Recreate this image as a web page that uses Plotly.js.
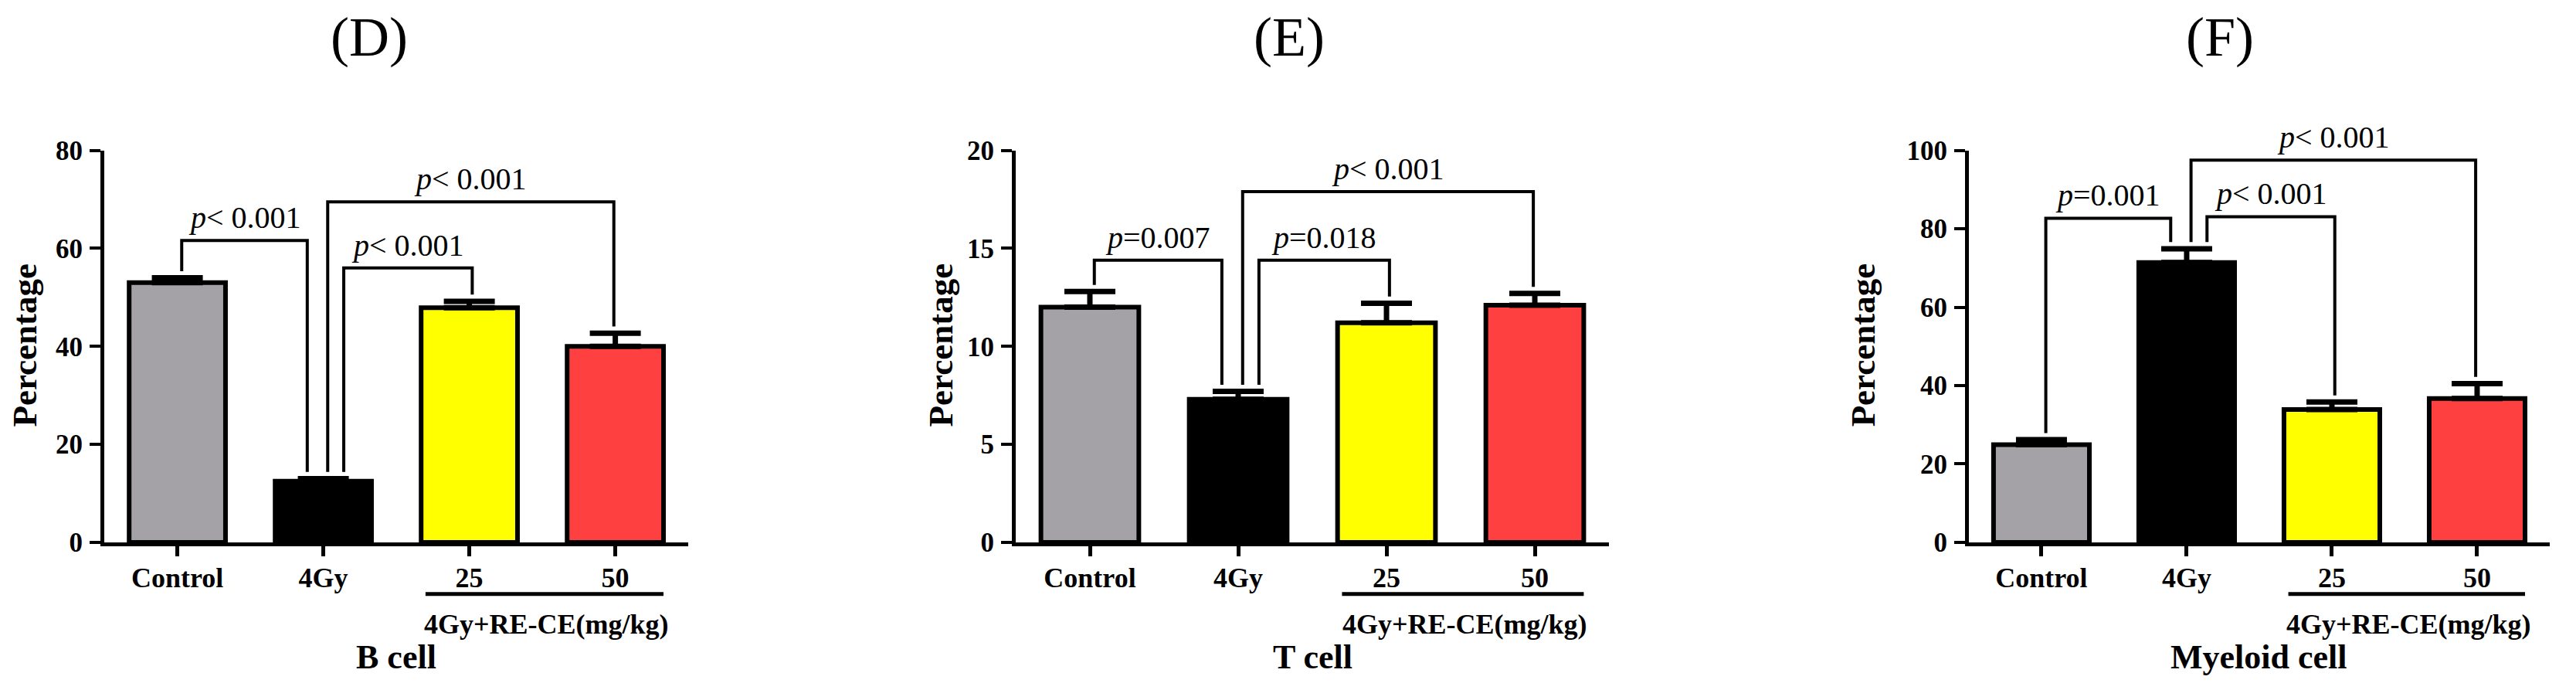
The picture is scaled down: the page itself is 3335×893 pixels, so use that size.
<!DOCTYPE html>
<html>
<head>
<meta charset="utf-8">
<script src="https://cdn.plot.ly/plotly-3.0.1.min.js"></script>
<style>
  body { margin: 0; background: #fff; }
  #chart { width: 3335px; height: 893px; }
</style>
</head>
<body>
<div id="chart"></div>
<script>
// data
var categories = ['Control', '4Gy', '25', '50'];
var barColors = ['#a4a2a7', '#000000', '#ffff00', '#ff4040'];

var bCellMean = [53.0, 12.5, 47.9, 40.0];
var bCellErr = [1.0, 0.5, 1.3, 2.7];
var tCellMean = [12.0, 7.3, 11.2, 12.1];
var tCellErr = [0.8, 0.4, 1.0, 0.6];
var myeloidMean = [24.9, 71.4, 33.9, 36.7];
var myeloidErr = [1.3, 3.5, 1.9, 3.8];

// [from, to, height, label]
var bCellBrackets = [[0, 1, 61.6, '<i>p</i>&lt; 0.001'], [1, 3, 69.5, '<i>p</i>&lt; 0.001'], [1, 2, 56, '<i>p</i>&lt; 0.001']];
var tCellBrackets = [[0, 1, 14.4, '<i>p</i>=0.007'], [1, 3, 17.9, '<i>p</i>&lt; 0.001'], [1, 2, 14.4, '<i>p</i>=0.018']];
var myeloidBrackets = [[0, 1, 82.7, '<i>p</i>=0.001'], [1, 3, 97.5, '<i>p</i>&lt; 0.001'], [1, 2, 83.1, '<i>p</i>&lt; 0.001']];

var panelTitles = ['(D)', '(E)', '(F)'];
var cellLabels = ['B cell', 'T cell', 'Myeloid cell'];
var groupLabel = '4Gy+RE-CE(mg/kg)';
var yMax = [80, 20, 100];
var yStep = [20, 5, 20];

// layout bits
var serif = 'Liberation Serif, Times New Roman, serif';
var xDomains = [[0.0405, 0.2672], [0.3943, 0.6246], [0.7643, 0.9898]];
var yDomain = [0.214, 0.782];
var titleX = [0.1433, 0.5004, 0.8618];
var ylabX = [0.0093, 0.3652, 0.7232];
var legShift = [[0.03, -0.11], [0.03, -0.01], [0.14, 0.02]];

var panels = [
  {mean: bCellMean, err: bCellErr, br: bCellBrackets},
  {mean: tCellMean, err: tCellErr, br: tCellBrackets},
  {mean: myeloidMean, err: myeloidErr, br: myeloidBrackets}
];

var xs = categories.map(function (c, i) { return i; });
var data = [];
var layout = {
  width: 3335, height: 893,
  margin: {l: 0, r: 0, t: 0, b: 0},
  paper_bgcolor: '#fff', plot_bgcolor: '#fff',
  showlegend: false,
  shapes: [], annotations: []
};

panels.forEach(function (p, k) {
  var sfx = k === 0 ? '' : String(k + 1);
  var xa = 'x' + sfx, ya = 'y' + sfx;

  data.push({
    type: 'bar', x: xs, y: p.mean, xaxis: xa, yaxis: ya, width: 0.66,
    marker: {color: barColors, line: {color: '#000', width: 6}},
    error_y: {type: 'data', symmetric: false, array: p.err, arrayminus: [0, 0, 0, 0],
      color: '#000', thickness: 7, width: 33},
    hoverinfo: 'skip'
  });

  var gap = yMax[k] * 0.017;
  p.br.forEach(function (b, j) {
    var l = b[0] + legShift[j][0], r = b[1] + legShift[j][1];
    var lb = p.mean[b[0]] + p.err[b[0]] + gap;
    var rb = p.mean[b[1]] + p.err[b[1]] + gap;
    data.push({
      type: 'scatter', mode: 'lines', xaxis: xa, yaxis: ya,
      x: [l, l, r, r], y: [lb, b[2], b[2], rb],
      line: {color: '#000', width: 4}, hoverinfo: 'skip'
    });
    layout.annotations.push({
      xref: xa, yref: ya, x: (l + r) / 2, y: b[2], xanchor: 'center', yanchor: 'bottom', yshift: 5,
      text: b[3], showarrow: false, font: {family: serif, size: 40, color: '#000'}
    });
  });

  layout['xaxis' + sfx] = {
    domain: xDomains[k], anchor: ya, range: [-0.5, 3.5],
    tickvals: xs, ticktext: categories.map(function (c) { return '<b>' + c + '</b>'; }),
    ticks: 'outside', ticklen: 13, tickwidth: 5, tickcolor: '#000',
    showline: true, linewidth: 5, linecolor: '#000', showgrid: false, zeroline: false,
    ticklabelstandoff: -3,
    tickfont: {family: serif, size: 36, color: '#000'}, fixedrange: true
  };
  layout['yaxis' + sfx] = {
    domain: yDomain, anchor: xa, range: [0, yMax[k]], dtick: yStep[k],
    ticks: 'outside', ticklen: 14, tickwidth: 4, tickcolor: '#000',
    showline: true, linewidth: 5, linecolor: '#000', showgrid: false, zeroline: false,
    tickprefix: '<b>', ticksuffix: '</b>', ticklabelstandoff: 2,
    tickfont: {family: serif, size: 35, color: '#000'}, fixedrange: true
  };

  // underline for the RE-CE dose group
  layout.shapes.push({type: 'line', xref: xa, yref: 'paper', x0: 1.7, x1: 3.33,
    y0: 0.139, y1: 0.139, line: {color: '#000', width: 5}});

  layout.annotations.push(
    {xref: xa, yref: 'paper', x: 2.53, y: 0.095, xanchor: 'center', yanchor: 'middle',
      text: '<b>' + groupLabel + '</b>', showarrow: false,
      font: {family: serif, size: 36, color: '#000'}},
    {xref: xa, yref: 'paper', x: 1.5, y: 0.048, xanchor: 'center', yanchor: 'middle',
      text: '<b>' + cellLabels[k] + '</b>', showarrow: false,
      font: {family: serif, size: 44, color: '#000'}},
    {xref: 'paper', yref: 'paper', x: ylabX[k], y: 0.5, xanchor: 'center', yanchor: 'middle',
      textangle: -90, text: '<b>Percentage</b>', showarrow: false,
      font: {family: serif, size: 45, color: '#000'}},
    {xref: 'paper', yref: 'paper', x: titleX[k], y: 0.946, xanchor: 'center', yanchor: 'middle',
      text: panelTitles[k], showarrow: false, borderpad: 0,
      font: {family: serif, size: 72, color: '#000'}}
  );
});

Plotly.newPlot('chart', data, layout, {staticPlot: true, displayModeBar: false});
</script>
</body>
</html>
